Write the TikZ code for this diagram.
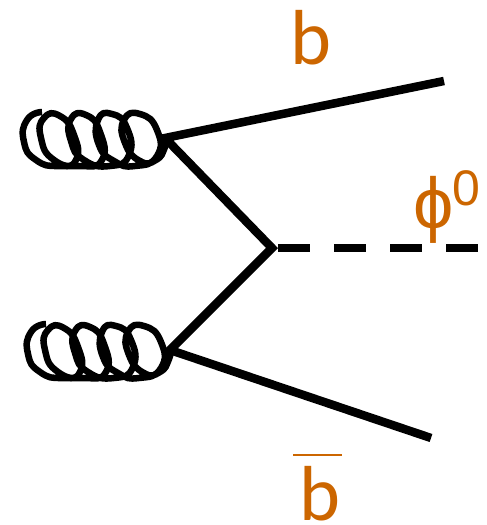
\documentclass[tikz,border=0pt]{standalone}
\usepackage{xcolor}
\usepackage{fontspec}
\setmainfont{Carlito}
\newfontfamily\phifont{Liberation Sans}
\definecolor{cLabel}{HTML}{CC6600}
\usetikzlibrary{positioning,calc}
\tikzset{
  node-label/.style={text=cLabel,inner sep=0pt,font=\fontsize{78}{78}\selectfont},
  line-quark/.style={draw=black,line width=8.5pt,line join=miter},
  line-scalar/.style={draw=black,line width=8pt,dash pattern=on 32pt off 24pt},
  line-gluon/.style={draw=black,line width=6.5pt,line join=round},
  line-bar/.style={draw=cLabel,line width=2pt},
  pics/coil/.style={code={
    \draw[line-gluon] plot[smooth,tension=0.95] coordinates {
      (42,112) (27,120) (24,142) (36,160) (58,166) (76,160) (74,135) (60,116) (44,118)
      (41,138) (54,160) (80,166) (102,160) (100,132) (86,115) (71,119)
      (71,141) (84,160) (110,166) (129,155) (127,128) (112,114) (98,120)
      (99,145) (114,161) (135,166) (157,156) (157,130) (140,114) (124,120)
      (125,143) (140,161) (156,160) (165,147) (167,135)};
  }},
}
\begin{document}
\begin{tikzpicture}[x=1pt,y=-1pt]
  \useasboundingbox (0,0) rectangle (487,525);
  \coordinate (g1) at (165,138);
  \coordinate (g2) at (170,350);
  \coordinate (vtx) at (272,248);
  \coordinate (qout) at (444,81);
  \coordinate (qbarout) at (431,438);
  \coordinate (phiin) at (278,248);
  \coordinate (phiout) at (478,248);
  \coordinate (barl) at (293,455);
  \coordinate (barr) at (342,455);
  % legs
  \draw[line-quark] (qout) -- (g1) -- (vtx) -- (g2) -- (qbarout);
  \draw[line-scalar] (phiin) -- (phiout);
  % gluons
  \pic at (0,0) {coil};
  \pic at (4,212) {coil};
  % labels
  \node[node-label,anchor=base] (lab-b) at (311,64) {b};
  \node[node-label,anchor=base] (lab-bbar) at (320,520) {b};
  \draw[line-bar] (barl) -- (barr);
  \node[node-label,anchor=base,font=\phifont\fontsize{72}{72}\selectfont] (lab-phi) at (434,228) {ϕ};
  \node[node-label,anchor=base,font=\phifont\fontsize{50}{50}\selectfont] (lab-zero) at (466,205) {0};
\end{tikzpicture}
\end{document}
